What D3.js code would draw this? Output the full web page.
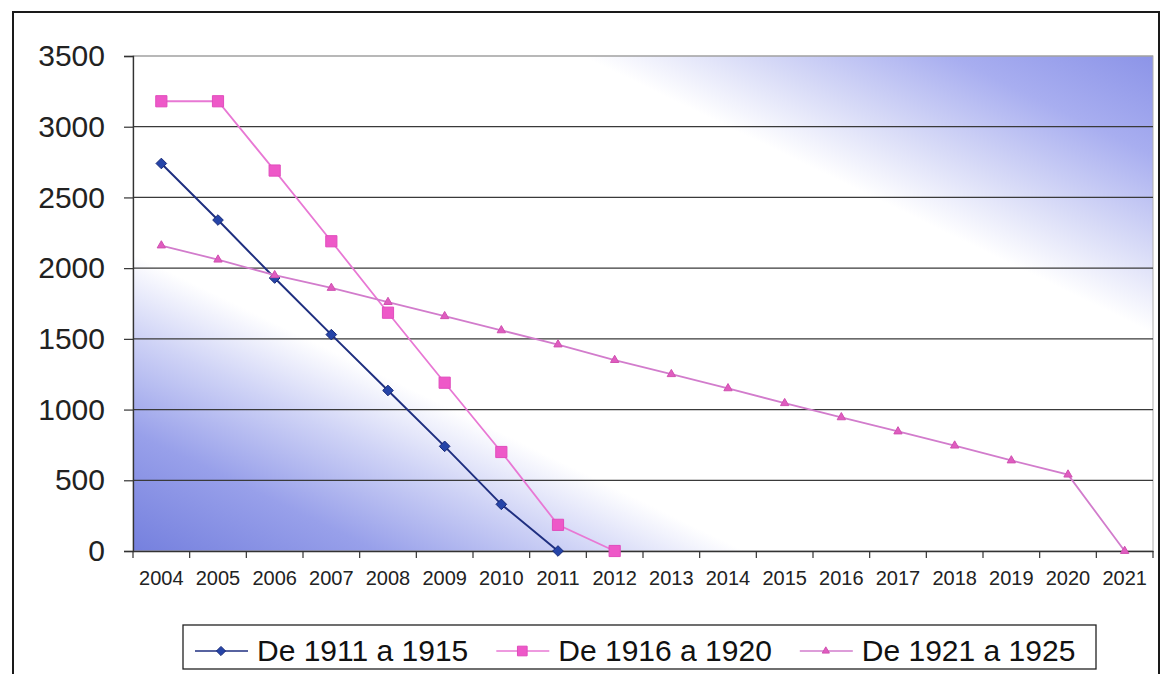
<!DOCTYPE html>
<html>
<head>
<meta charset="utf-8">
<script src="https://cdn.jsdelivr.net/npm/d3@7"></script>
<style>
  html, body { margin: 0; padding: 0; background: #fff; }
  svg { display: block; font-family: "Liberation Sans", Arial, sans-serif; }
</style>
</head>
<body>
<svg id="chart" width="1160" height="674"></svg>
<script>
const years = ["2004","2005","2006","2007","2008","2009","2010","2011","2012","2013","2014","2015","2016","2017","2018","2019","2020","2021"];
const yTicks = [0, 500, 1000, 1500, 2000, 2500, 3000, 3500];
const seriesNames = ["De 1911 a 1915", "De 1916 a 1920", "De 1921 a 1925"];
const values1911 = [2740, 2340, 1930, 1530, 1135, 740, 330, 0];
const values1916 = [3180, 3180, 2690, 2190, 1685, 1190, 700, 185, 0];
const values1921 = [2160, 2060, 1950, 1860, 1760, 1660, 1560, 1460, 1350, 1250, 1150, 1045, 945, 845, 745, 640, 540, 0];

const svg = d3.select("#chart");
const m = {left: 133, right: 1153, top: 56, bottom: 551};

const x = d3.scaleBand().domain(years).range([m.left, m.right]).padding(0);
const y = d3.scaleLinear().domain([0, 3500]).range([m.bottom, m.top]);

// Outer chart border
svg.append("rect").attr("x", 13).attr("y", 12).attr("width", 1146).attr("height", 720)
  .attr("fill", "#fff").attr("stroke", "#1a1a1a").attr("stroke-width", 2);

// Plot area gradient (diagonal)
const defs = svg.append("defs");
const grad = defs.append("linearGradient").attr("id", "bg")
  .attr("x1", 0).attr("y1", 1).attr("x2", 1).attr("y2", 0);
[[0, "#7580de"], [0.12, "#98a0ea"], [0.22, "#cfd3f6"], [0.3, "#ffffff"], [0.72, "#ffffff"], [0.8, "#d8dbf7"], [0.9, "#a8aef0"], [1, "#8c94e8"]]
  .forEach(([o, c]) => grad.append("stop").attr("offset", o).attr("stop-color", c));

svg.append("rect").attr("x", m.left).attr("y", m.top)
  .attr("width", m.right - m.left).attr("height", m.bottom - m.top)
  .attr("fill", "url(#bg)").attr("stroke", "#b0b0b0").attr("stroke-width", 1);

// Gridlines
svg.append("g").selectAll("line").data(yTicks.filter(d => d > 0)).join("line")
  .attr("x1", m.left).attr("x2", m.right)
  .attr("y1", d => y(d)).attr("y2", d => y(d))
  .attr("stroke", d => d === 3500 ? "#9a9a9a" : "#3a3a3a").attr("stroke-width", 1.2);

// Y axis
const yAxis = svg.append("g").attr("transform", `translate(${m.left},0)`)
  .call(d3.axisLeft(y).tickValues(yTicks).tickSize(9).tickPadding(19).tickFormat(d3.format("d")));
yAxis.select(".domain").attr("stroke", "#333").attr("stroke-width", 1.3);
yAxis.selectAll(".tick line").attr("stroke", "#333").attr("stroke-width", 1.2);
yAxis.selectAll("text").attr("font-size", 30).attr("fill", "#222")
  .attr("font-family", "Liberation Sans, Arial, sans-serif");

// X axis
const xAxis = svg.append("g").attr("transform", `translate(0,${m.bottom})`)
  .call(d3.axisBottom(x).tickSize(0).tickPadding(20));
xAxis.select(".domain").attr("stroke", "#333").attr("stroke-width", 1.3);
xAxis.selectAll("text").attr("font-size", 20).attr("fill", "#222")
  .attr("font-family", "Liberation Sans, Arial, sans-serif");
// category boundary ticks
const bounds = years.map(d => x(d)).concat([x(years[years.length - 1]) + x.bandwidth()]);
svg.append("g").selectAll("line").data(bounds).join("line")
  .attr("x1", d => d).attr("x2", d => d)
  .attr("y1", m.bottom).attr("y2", m.bottom + 7)
  .attr("stroke", "#333").attr("stroke-width", 1.2);

const cx = d => x(d) + x.bandwidth() / 2;

const series = [
  {name: seriesNames[0], vals: values1911, line: "#1f2f80", fill: "#2544a8", stroke: "#182a78", sym: d3.symbolDiamond2, size: 72, lw: 2},
  {name: seriesNames[1], vals: values1916, line: "#e878d4", fill: "#ee58c8", stroke: "#e04cbc", sym: d3.symbolSquare, size: 125, lw: 1.8},
  {name: seriesNames[2], vals: values1921, line: "#d27ccc", fill: "#e05cc0", stroke: "#d050b0", sym: d3.symbolTriangle, size: 30, lw: 1.8}
];

const lineGen = d3.line().x((d, i) => cx(years[i])).y(d => y(d));

series.forEach(s => {
  const g = svg.append("g");
  g.append("path").datum(s.vals).attr("d", lineGen)
    .attr("fill", "none").attr("stroke", s.line).attr("stroke-width", s.lw);
  g.selectAll("path.mk").data(s.vals).join("path").attr("class", "mk")
    .attr("transform", (d, i) => `translate(${cx(years[i])},${y(d)})`)
    .attr("d", d3.symbol().type(s.sym).size(s.size))
    .attr("fill", s.fill).attr("stroke", s.stroke).attr("stroke-width", 1);
});

// Legend
const legend = svg.append("g");
legend.append("rect").attr("x", 183).attr("y", 625).attr("width", 913).attr("height", 44)
  .attr("fill", "#fff").attr("stroke", "#222").attr("stroke-width", 1.3);
let lx = 195;
const ly = 651;
series.forEach(s => {
  const it = legend.append("g");
  it.append("line").attr("x1", lx).attr("x2", lx + 53).attr("y1", ly).attr("y2", ly)
    .attr("stroke", s.line).attr("stroke-width", 1.4);
  it.append("path").attr("transform", `translate(${lx + 26},${ly})`)
    .attr("d", d3.symbol().type(s.sym).size(s.size * 0.75))
    .attr("fill", s.fill).attr("stroke", s.stroke).attr("stroke-width", 1);
  const t = it.append("text").attr("x", lx + 62).attr("y", ly + 10)
    .attr("font-size", 30).attr("fill", "#111").text(s.name);
  lx = lx + 62 + t.node().getComputedTextLength() + 28;
});
</script>
</body>
</html>
